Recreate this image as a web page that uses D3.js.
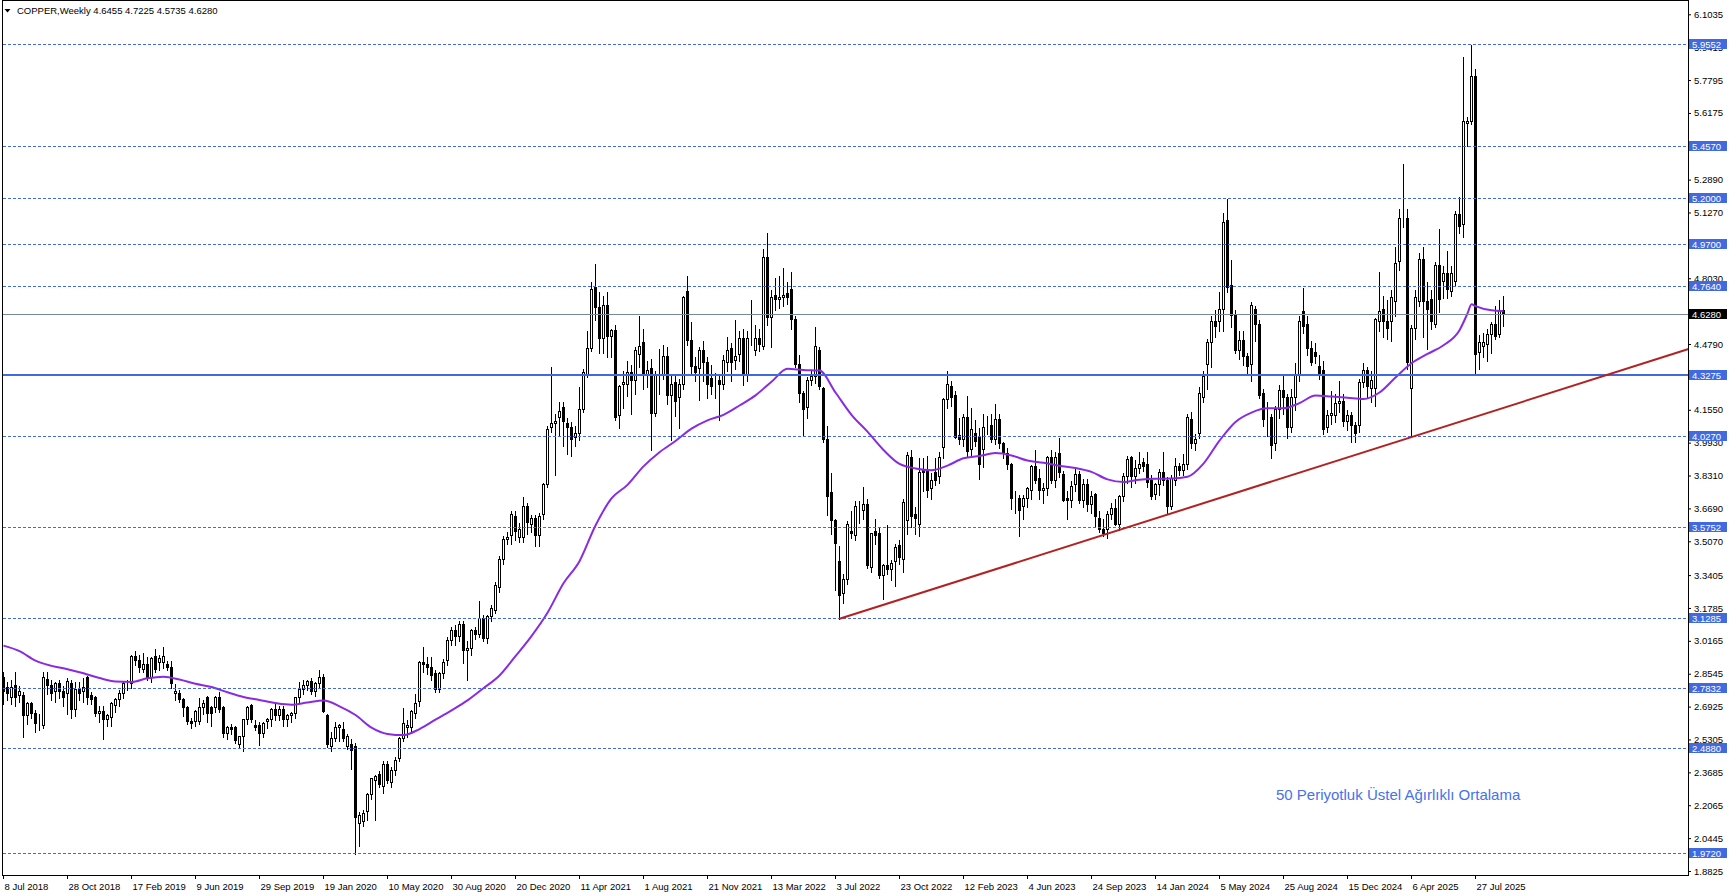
<!DOCTYPE html>
<html><head><meta charset="utf-8">
<script src="https://cdn.jsdelivr.net/npm/d3@7"></script>
<style>
html,body{margin:0;padding:0;background:#fff;overflow:hidden}
svg{display:block}
text{font-family:"Liberation Sans",Arial,sans-serif}
</style></head><body>
<svg id="c" width="1729" height="896"></svg>
<script>
// ---------------- DATA (weekly candles, bar 0 = week of 8 Jul 2018) ----------------
const opens=[
2.84,2.79,2.74,2.80,2.75,2.75,2.65,2.71,2.66,2.61,
2.60,2.83,2.80,2.77,2.81,2.77,2.76,2.81,2.68,2.78,
2.77,2.84,2.75,2.74,2.66,2.67,2.63,2.64,2.70,2.73,
2.76,2.81,2.81,2.94,2.92,2.88,2.90,2.84,2.94,2.91,
2.91,2.90,2.89,2.76,2.76,2.73,2.69,2.62,2.62,2.62,
2.69,2.74,2.69,2.69,2.74,2.69,2.56,2.59,2.59,2.51,
2.55,2.63,2.70,2.60,2.60,2.56,2.62,2.63,2.68,2.65,
2.68,2.63,2.65,2.66,2.74,2.78,2.80,2.82,2.77,2.81,
2.84,2.65,2.50,2.54,2.59,2.58,2.50,2.51,2.50,2.12,
2.13,2.18,2.26,2.33,2.36,2.30,2.41,2.32,2.38,2.44,
2.54,2.59,2.59,2.66,2.72,2.91,2.90,2.89,2.86,2.78,
2.86,2.92,3.02,3.07,3.04,3.10,2.97,2.98,3.07,3.05,
3.13,3.03,3.14,3.17,3.28,3.42,3.52,3.54,3.63,3.53,
3.53,3.68,3.59,3.62,3.54,3.64,3.79,4.07,4.09,4.12,
4.17,4.09,4.07,4.02,4.04,4.16,4.33,4.46,4.76,4.66,
4.51,4.67,4.52,4.55,4.13,4.28,4.28,4.34,4.30,4.43,
4.49,4.33,4.36,4.14,4.33,4.33,4.42,4.23,4.29,4.22,
4.28,4.74,4.50,4.37,4.36,4.45,4.39,4.31,4.28,4.30,
4.28,4.39,4.46,4.40,4.43,4.51,4.33,4.51,4.45,4.51,
4.47,4.91,4.61,4.72,4.70,4.71,4.73,4.75,4.60,4.38,
4.24,4.17,4.30,4.32,4.45,4.26,4.01,3.75,3.61,3.41,
3.25,3.32,3.56,3.54,3.67,3.66,3.69,3.38,3.56,3.55,
3.34,3.39,3.37,3.41,3.49,3.42,3.61,3.92,3.64,3.59,
3.86,3.86,3.77,3.85,3.83,3.97,4.21,4.27,4.23,4.03,
4.01,4.12,3.96,4.04,4.02,3.96,4.08,4.08,4.01,4.11,
3.99,3.94,3.89,3.72,3.72,3.68,3.72,3.76,3.88,3.82,
3.76,3.77,3.92,3.81,3.94,3.84,3.72,3.71,3.79,3.84,
3.71,3.79,3.69,3.74,3.62,3.57,3.57,3.64,3.67,3.59,
3.73,3.83,3.92,3.83,3.87,3.90,3.89,3.81,3.74,3.79,
3.85,3.81,3.68,3.81,3.88,3.86,3.89,4.11,3.99,4.04,
4.22,4.38,4.49,4.59,4.59,4.65,5.09,4.77,4.62,4.45,
4.50,4.42,4.38,4.65,4.58,4.24,4.12,4.12,3.99,4.16,
4.25,4.22,4.07,4.22,4.33,4.64,4.58,4.46,4.44,4.37,
4.35,4.07,4.13,4.13,4.19,4.20,4.10,4.13,4.08,4.08,
4.29,4.35,4.26,4.26,4.59,4.65,4.59,4.59,4.69,4.89,
5.10,5.10,4.26,4.56,4.69,4.90,4.69,4.70,4.58,4.87,
4.79,4.83,4.74,4.79,5.12,5.07,5.57,5.58,5.80,4.44,
4.47,4.48,4.53,4.58,4.53,4.6455];
const highs=[
2.87,2.82,2.83,2.87,2.80,2.77,2.72,2.72,2.68,2.66,
2.87,2.87,2.83,2.82,2.83,2.80,2.84,2.83,2.82,2.82,
2.84,2.85,2.77,2.75,2.70,2.70,2.66,2.72,2.74,2.78,
2.82,2.83,2.95,2.97,2.95,2.96,2.94,2.94,2.98,2.95,
2.99,2.92,2.92,2.81,2.78,2.74,2.70,2.64,2.68,2.74,
2.73,2.75,2.70,2.75,2.77,2.70,2.60,2.61,2.60,2.55,
2.63,2.70,2.71,2.63,2.62,2.62,2.64,2.69,2.71,2.70,
2.70,2.66,2.67,2.74,2.82,2.83,2.83,2.84,2.82,2.88,
2.86,2.66,2.57,2.62,2.61,2.62,2.56,2.54,2.52,2.18,
2.19,2.27,2.34,2.36,2.38,2.43,2.43,2.40,2.45,2.55,
2.69,2.63,2.68,2.76,2.92,2.99,2.94,2.94,2.88,2.87,
2.93,3.04,3.09,3.10,3.12,3.12,3.02,3.08,3.09,3.22,
3.15,3.15,3.20,3.31,3.44,3.54,3.56,3.66,3.66,3.60,
3.73,3.70,3.64,3.64,3.65,3.80,4.08,4.37,4.14,4.20,
4.20,4.12,4.10,4.08,4.27,4.36,4.55,4.79,4.88,4.74,
4.72,4.74,4.56,4.58,4.28,4.35,4.40,4.38,4.47,4.62,
4.56,4.40,4.41,4.35,4.46,4.48,4.47,4.33,4.33,4.31,
4.72,4.82,4.59,4.42,4.47,4.50,4.42,4.38,4.34,4.33,
4.43,4.52,4.49,4.60,4.55,4.56,4.55,4.70,4.58,4.56,
4.95,5.03,4.75,4.81,4.82,4.86,4.79,4.84,4.62,4.43,
4.25,4.32,4.35,4.57,4.47,4.27,4.08,3.85,3.62,3.49,
3.35,3.61,3.66,3.71,3.71,3.78,3.72,3.55,3.62,3.58,
3.40,3.59,3.42,3.50,3.52,3.72,3.95,3.96,3.68,3.92,
3.92,3.93,3.85,3.92,3.95,4.22,4.35,4.30,4.25,4.12,
4.14,4.23,4.17,4.11,4.07,4.14,4.13,4.14,4.19,4.14,
4.00,3.97,3.90,3.76,3.74,3.74,3.78,3.89,3.96,3.87,
3.80,3.93,3.96,3.95,4.02,3.86,3.76,3.81,3.87,3.86,
3.82,3.82,3.76,3.75,3.66,3.62,3.66,3.70,3.72,3.74,
3.85,3.93,3.93,3.91,3.95,3.92,3.95,3.84,3.80,3.87,
3.95,3.83,3.84,3.92,3.90,3.94,4.14,4.15,4.04,4.27,
4.35,4.51,4.62,4.65,4.74,5.13,5.20,4.90,4.65,4.55,
4.55,4.44,4.69,4.67,4.60,4.26,4.20,4.14,4.18,4.28,
4.33,4.24,4.26,4.39,4.62,4.76,4.62,4.50,4.49,4.43,
4.40,4.16,4.25,4.24,4.30,4.24,4.16,4.15,4.10,4.31,
4.39,4.37,4.35,4.61,4.84,4.72,4.70,4.75,4.96,5.15,
5.37,5.15,4.58,4.75,4.93,4.96,4.79,4.75,4.89,5.05,
4.87,4.94,4.87,5.14,5.21,5.90,5.60,5.955,5.84,4.53,
4.54,4.56,4.59,4.67,4.70,4.7225];
const lows=[
2.71,2.73,2.71,2.70,2.72,2.55,2.61,2.64,2.57,2.58,
2.59,2.76,2.73,2.72,2.74,2.70,2.66,2.64,2.65,2.73,
2.72,2.71,2.71,2.65,2.62,2.54,2.60,2.60,2.67,2.70,
2.74,2.78,2.79,2.90,2.87,2.87,2.83,2.82,2.87,2.88,
2.89,2.88,2.79,2.73,2.72,2.65,2.61,2.59,2.60,2.61,
2.66,2.62,2.60,2.67,2.67,2.55,2.54,2.56,2.52,2.50,
2.48,2.61,2.62,2.58,2.51,2.55,2.59,2.60,2.63,2.63,
2.60,2.60,2.62,2.64,2.72,2.76,2.78,2.76,2.75,2.79,
2.67,2.50,2.48,2.53,2.53,2.53,2.49,2.39,1.97,2.01,
2.11,2.14,2.24,2.14,2.30,2.27,2.32,2.30,2.36,2.43,
2.53,2.55,2.57,2.64,2.70,2.87,2.86,2.83,2.77,2.77,
2.84,2.90,3.00,3.00,3.02,2.91,2.83,2.95,3.03,3.04,
3.02,3.01,3.12,3.16,3.26,3.40,3.50,3.50,3.52,3.51,
3.51,3.55,3.56,3.49,3.49,3.62,3.78,4.05,3.84,4.03,
3.98,3.94,3.93,3.98,4.01,4.15,4.32,4.45,4.60,4.44,
4.44,4.42,4.42,4.11,4.07,4.17,4.23,4.14,4.24,4.37,
4.26,4.27,3.96,4.13,4.24,4.31,4.19,4.01,4.13,4.07,
4.26,4.48,4.34,4.30,4.21,4.30,4.22,4.24,4.22,4.11,
4.26,4.35,4.30,4.36,4.40,4.28,4.30,4.48,4.43,4.45,
4.46,4.58,4.47,4.65,4.66,4.67,4.68,4.56,4.37,4.20,
4.03,4.12,4.28,4.29,4.26,4.00,3.64,3.55,3.27,3.13,
3.21,3.30,3.53,3.52,3.60,3.62,3.38,3.36,3.50,3.33,
3.23,3.35,3.32,3.29,3.40,3.36,3.55,3.58,3.55,3.54,
3.76,3.73,3.72,3.79,3.80,3.92,4.17,4.18,4.02,3.99,
3.98,3.93,3.93,3.98,3.82,3.88,4.04,4.00,3.99,3.97,
3.92,3.87,3.67,3.65,3.54,3.62,3.68,3.72,3.80,3.72,
3.70,3.74,3.80,3.78,3.83,3.71,3.62,3.68,3.76,3.70,
3.68,3.66,3.65,3.58,3.56,3.54,3.53,3.62,3.59,3.57,
3.71,3.80,3.78,3.80,3.85,3.86,3.78,3.72,3.72,3.74,
3.79,3.65,3.67,3.79,3.84,3.84,3.87,3.97,3.96,4.02,
4.20,4.26,4.37,4.52,4.55,4.55,4.74,4.57,4.44,4.41,
4.38,4.33,4.30,4.50,4.22,4.08,4.03,3.92,3.96,4.12,
4.14,4.02,4.05,4.16,4.30,4.54,4.43,4.38,4.39,4.31,
4.04,4.05,4.09,4.10,4.15,4.08,4.06,4.00,4.00,4.05,
4.27,4.22,4.20,4.18,4.55,4.52,4.51,4.50,4.62,4.85,
5.06,4.36,4.03,4.51,4.67,4.52,4.46,4.56,4.57,4.64,
4.71,4.71,4.72,4.77,5.03,5.01,5.46,5.57,4.33,4.36,
4.42,4.40,4.44,4.51,4.52,4.5735];
const closes=[
2.77,2.76,2.79,2.74,2.77,2.65,2.71,2.66,2.61,2.61,
2.84,2.80,2.76,2.81,2.77,2.74,2.82,2.68,2.78,2.76,
2.79,2.74,2.73,2.66,2.67,2.63,2.65,2.71,2.73,2.76,
2.81,2.81,2.94,2.92,2.89,2.90,2.84,2.93,2.88,2.93,
2.94,2.89,2.81,2.77,2.73,2.69,2.62,2.61,2.67,2.69,
2.71,2.66,2.66,2.74,2.68,2.56,2.59,2.58,2.53,2.55,
2.63,2.69,2.63,2.59,2.56,2.61,2.63,2.68,2.65,2.68,
2.63,2.65,2.66,2.74,2.78,2.80,2.82,2.77,2.81,2.84,
2.67,2.51,2.54,2.59,2.60,2.54,2.55,2.48,2.15,2.16,
2.17,2.26,2.34,2.35,2.31,2.41,2.33,2.38,2.43,2.54,
2.61,2.60,2.67,2.71,2.91,2.90,2.89,2.85,2.78,2.86,
2.91,3.02,3.07,3.04,3.10,2.97,2.98,3.07,3.05,3.13,
3.03,3.14,3.18,3.29,3.42,3.52,3.53,3.64,3.56,3.57,
3.68,3.60,3.62,3.54,3.63,3.79,4.06,4.09,4.10,4.15,
4.10,4.07,4.01,4.04,4.16,4.34,4.46,4.75,4.66,4.51,
4.67,4.52,4.55,4.12,4.27,4.29,4.34,4.30,4.45,4.47,
4.33,4.35,4.14,4.33,4.33,4.42,4.23,4.28,4.20,4.28,
4.71,4.50,4.37,4.34,4.45,4.39,4.28,4.27,4.28,4.28,
4.40,4.45,4.39,4.42,4.51,4.33,4.51,4.51,4.51,4.48,
4.91,4.61,4.71,4.70,4.71,4.72,4.71,4.60,4.38,4.24,
4.16,4.30,4.32,4.47,4.27,4.01,3.73,3.61,3.50,3.24,
3.32,3.59,3.55,3.68,3.67,3.69,3.39,3.55,3.54,3.34,
3.39,3.37,3.40,3.48,3.43,3.70,3.93,3.63,3.62,3.85,
3.85,3.76,3.81,3.81,3.92,4.21,4.28,4.22,4.02,4.01,
4.12,3.95,4.06,4.00,3.89,4.07,4.08,4.01,4.11,3.99,
3.94,3.89,3.72,3.72,3.66,3.72,3.77,3.88,3.81,3.76,
3.77,3.92,3.81,3.92,3.85,3.71,3.71,3.78,3.84,3.71,
3.79,3.69,3.73,3.63,3.57,3.55,3.64,3.67,3.59,3.73,
3.83,3.91,3.83,3.87,3.89,3.88,3.80,3.73,3.79,3.85,
3.81,3.68,3.82,3.88,3.86,3.89,4.12,3.99,4.01,4.24,
4.32,4.49,4.59,4.57,4.65,5.08,4.76,4.62,4.45,4.50,
4.42,4.37,4.67,4.58,4.23,4.11,4.12,3.98,4.16,4.25,
4.22,4.07,4.22,4.33,4.59,4.57,4.46,4.39,4.42,4.33,
4.06,4.13,4.14,4.19,4.20,4.10,4.13,4.08,4.04,4.29,
4.35,4.27,4.30,4.60,4.64,4.59,4.56,4.71,4.88,5.10,
5.10,4.39,4.56,4.71,4.90,4.69,4.65,4.59,4.87,4.70,
4.83,4.75,4.83,5.12,5.06,5.58,5.58,5.80,4.43,4.49,
4.49,4.53,4.58,4.52,4.64,4.628];

// 50-period EMA at these bars
const emaBars=[0,4,8,12,16,20,24,28,32,36,40,44,48,52,56,60,64,68,72,76,80,84,88,92,96,100,
104,108,112,116,120,124,128,132,136,140,144,148,152,156,160,164,168,172,176,180,184,188,192,196,200,
204,208,212,216,220,224,228,232,236,240,244,248,252,256,260,264,268,272,276,280,284,288,292,296,300,
304,308,312,316,320,324,328,332,336,340,344,348,352,356,360,364,366,367,368,372,375];
const emaValues=[2.993,2.966,2.919,2.893,2.877,2.857,2.833,2.816,2.814,2.832,2.840,2.826,2.805,2.789,2.763,2.740,
2.725,2.710,2.702,2.713,2.722,2.694,2.651,2.589,2.558,2.552,
2.582,2.628,2.674,2.723,2.783,2.846,2.941,3.040,3.155,3.300,3.409,3.585,3.718,3.785,3.876,3.946,4.001,4.062,4.103,4.130,4.176,4.226,4.293,4.357,4.351,
4.348,4.240,4.130,4.047,3.957,3.888,3.866,3.857,3.880,3.916,3.927,3.942,3.930,3.905,3.894,3.879,3.868,3.849,3.812,3.799,3.810,3.815,3.816,3.825,3.890,
4.003,4.095,4.141,4.162,4.162,4.188,4.225,4.220,4.214,4.208,4.240,4.314,4.384,4.430,4.473,4.547,4.630,4.675,4.666,4.645,4.641];

const dateLabels=["8 Jul 2018","28 Oct 2018","17 Feb 2019","9 Jun 2019","29 Sep 2019","19 Jan 2020","10 May 2020",
"30 Aug 2020","20 Dec 2020","11 Apr 2021","1 Aug 2021","21 Nov 2021","13 Mar 2022","3 Jul 2022","23 Oct 2022",
"12 Feb 2023","4 Jun 2023","24 Sep 2023","14 Jan 2024","5 May 2024","25 Aug 2024","15 Dec 2024","6 Apr 2025","27 Jul 2025"];
const dateBars=[0,16,32,48,64,80,96,112,128,144,160,176,192,208,224,240,256,272,288,304,320,336,352,368];

const priceTicks=[6.1035,5.9415,5.7795,5.6175,5.4555,5.2890,5.1270,4.9650,4.8030,4.6410,4.4790,4.3170,4.1550,
3.9930,3.8310,3.6690,3.5070,3.3405,3.1785,3.0165,2.8545,2.6925,2.5305,2.3685,2.2065,2.0445,1.8825];

const dashedLevels=[5.9552,5.4570,5.2000,4.9700,4.7640,4.0270,3.5752,3.1285,2.7832,2.4880,1.9720];
const solidLevels=[4.3275];
const lastPrice=4.6280;
const trendBars=[209,352];
const trendPrices=[3.125,4.02];

const headerSymbol="COPPER,Weekly";
const headerOHLC=["4.6455","4.7225","4.5735","4.6280"];
const noteText="50 Periyotluk Üstel Ağırlıklı Ortalama";

// ---------------- DRAWING ----------------
const svg=d3.select("#c");
const L=2.5, R=1688.5, T=0.5, B=875.5;
const x=d3.scaleLinear().domain([0,375]).range([3,1503]);
const y=d3.scaleLinear().domain([1.8825,6.1035]).range([871,14.3]);
const BLUE="#4169E1";
const py=v=>Math.round(y(v))+0.5;

svg.append("rect").attr("width",1729).attr("height",896).attr("fill","#fff");

const plot=svg.append("g");
// candles
const bars=d3.range(opens.length);
const cg=plot.append("g").attr("shape-rendering","crispEdges");
cg.selectAll("line.wick").data(bars).join("line").attr("class","wick")
  .attr("x1",i=>Math.round(x(i))+0.5).attr("x2",i=>Math.round(x(i))+0.5)
  .attr("y1",i=>py(Math.max(highs[i],opens[i],closes[i]))).attr("y2",i=>py(Math.min(lows[i],opens[i],closes[i]))+1)
  .attr("stroke","#000").attr("stroke-width",1);
cg.selectAll("rect.body").data(bars).join("rect").attr("class","body")
  .attr("x",i=>Math.round(x(i))-0.5).attr("width",2)
  .attr("y",i=>py(Math.max(opens[i],closes[i])))
  .attr("height",i=>Math.max(0,py(Math.min(opens[i],closes[i]))-py(Math.max(opens[i],closes[i]))))
  .attr("fill",i=>closes[i]<opens[i]?"#000":"#fff")
  .attr("stroke","#000").attr("stroke-width",1);

// EMA
const emaLine=d3.line().x((d,k)=>x(emaBars[k])+0.5).y(d=>y(d)).curve(d3.curveMonotoneX);
plot.append("path").datum(emaValues).attr("d",emaLine).attr("fill","none")
  .attr("stroke","#8A2BE2").attr("stroke-width",2);

// horizontal levels
const lg=plot.append("g").attr("shape-rendering","crispEdges");
lg.selectAll("line.dl").data(dashedLevels).join("line").attr("class","dl")
  .attr("x1",L).attr("x2",R).attr("y1",d=>py(d)).attr("y2",d=>py(d))
  .attr("stroke",BLUE).attr("stroke-width",1).attr("stroke-dasharray","3,2");
lg.append("line").attr("x1",L).attr("x2",R).attr("y1",py(lastPrice)).attr("y2",py(lastPrice))
  .attr("stroke","#778899").attr("stroke-width",1);
lg.selectAll("line.sl").data(solidLevels).join("line").attr("class","sl")
  .attr("x1",L).attr("x2",R).attr("y1",d=>Math.round(y(d))).attr("y2",d=>Math.round(y(d)))
  .attr("stroke",BLUE).attr("stroke-width",2);

// trend line (ray to the right edge)
const slope=(trendPrices[1]-trendPrices[0])/(trendBars[1]-trendBars[0]);
const endBar=x.invert(R);
plot.append("line")
  .attr("x1",x(trendBars[0])+0.5).attr("y1",y(trendPrices[0]))
  .attr("x2",R).attr("y2",y(trendPrices[0]+slope*(endBar-trendBars[0])))
  .attr("stroke","#B22222").attr("stroke-width",2);

// frame
svg.append("path").attr("d",`M${L},${T}H${R}V${B}H${L}Z`).attr("fill","none")
  .attr("stroke","#000").attr("stroke-width",1).attr("shape-rendering","crispEdges");

// price axis
const ay=svg.append("g").attr("transform",`translate(${R-0.5},0)`)
  .call(d3.axisRight(y).tickValues(priceTicks).tickFormat(d3.format(".4f")).tickSize(3).tickPadding(3));
ay.select(".domain").remove();
ay.attr("font-family","Liberation Sans, Arial, sans-serif").attr("font-size",9.5);
ay.selectAll("text").attr("fill","#000");

// level labels on axis
const labs=svg.append("g");
function tag(v,bg){
  const yy=Math.round(y(v));
  labs.append("rect").attr("x",1689).attr("y",yy-5).attr("width",38).attr("height",10).attr("fill",bg);
  labs.append("text").attr("x",1692).attr("y",yy+3.5).attr("fill","#fff")
    .attr("font-size",9.5).text(d3.format(".4f")(v));
}
dashedLevels.concat(solidLevels).forEach(v=>tag(v,BLUE));
tag(lastPrice,"#000");

// date axis
const ax=svg.append("g").attr("transform",`translate(0,${B-0.5})`)
  .call(d3.axisBottom(x).tickValues(dateBars).tickFormat((d,k)=>dateLabels[k]).tickSize(4).tickPadding(4));
ax.select(".domain").remove();
ax.attr("font-family","Liberation Sans, Arial, sans-serif").attr("font-size",9.5);
ax.selectAll("text").attr("text-anchor","start").attr("x",1).attr("fill","#000");

// header
svg.append("path").attr("d","M4.5,9L10.5,9L7.5,12.5Z").attr("fill","#000");
svg.append("text").attr("x",17).attr("y",13.5).attr("font-size",9.5).attr("fill","#000")
  .text(headerSymbol+"  "+headerOHLC.join(" "));

// note
svg.append("text").attr("x",1276).attr("y",800).attr("font-size",15).attr("fill","#4672EA")
  .text(noteText);
</script>
</body></html>
